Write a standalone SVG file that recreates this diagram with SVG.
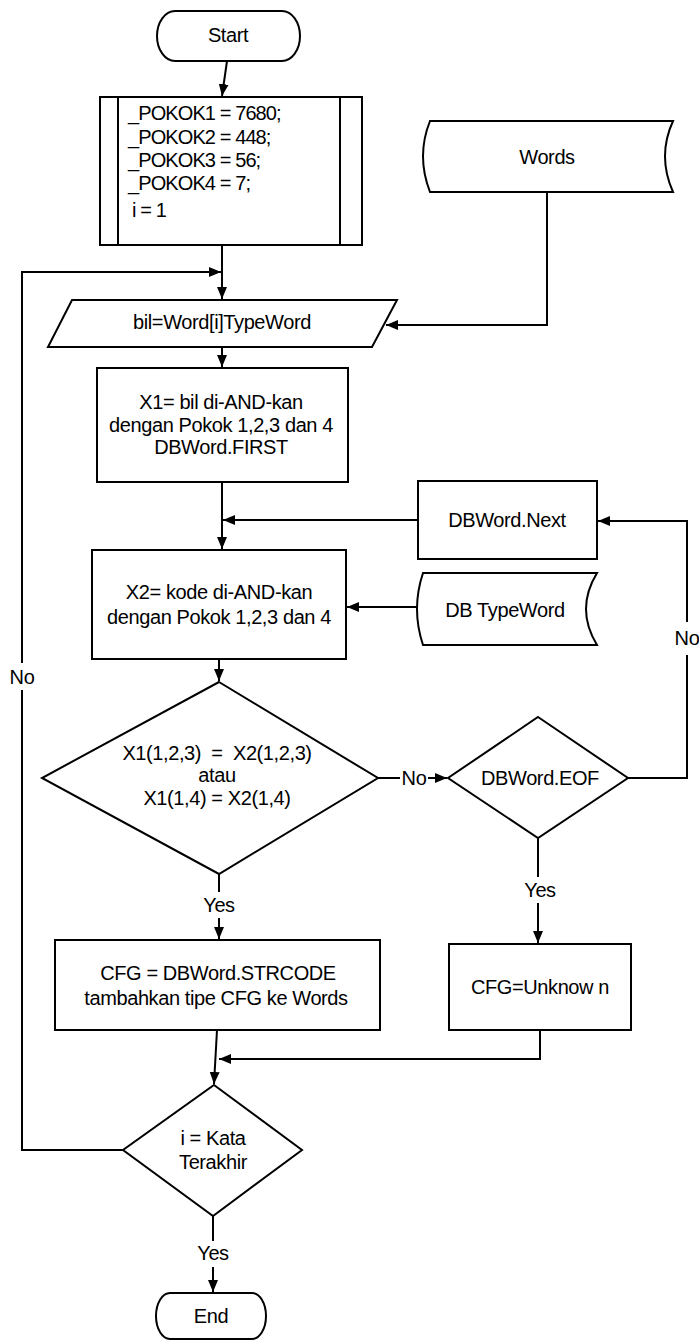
<svg xmlns="http://www.w3.org/2000/svg" width="699" height="1341" viewBox="0 0 699 1341">
<style>
.s{fill:#fff;stroke:#000;stroke-width:2}
.c{fill:none;stroke:#000;stroke-width:2}
text{font-family:"Liberation Sans",Arial,sans-serif;font-size:20px;fill:#000;letter-spacing:-0.4px}
.m{text-anchor:middle}
.p{white-space:pre}
.t{letter-spacing:-0.9px}
</style>
<defs>
<marker id="ah" viewBox="0 0 12 10" refX="12" refY="5" markerWidth="12" markerHeight="10" orient="auto" markerUnits="userSpaceOnUse"><path d="M0,0 L12,5 L0,10 z" fill="#000"/></marker>
</defs>
<rect width="699" height="1341" fill="#fff"/>
<g id="connectors">
<path class="c" d="M227,61 L222,96" marker-end="url(#ah)"/>
<path class="c" d="M222,245 L222,299" marker-end="url(#ah)"/>
<path class="c" d="M123,1150 L22,1150 L22,690"/>
<path class="c" d="M22,663 L22,272 L221,272" marker-end="url(#ah)"/>
<text class="m" x="22" y="684">No</text>
<path class="c" d="M547,192 L547,325 L386,325" marker-end="url(#ah)"/>
<path class="c" d="M222,347 L222,367" marker-end="url(#ah)"/>
<path class="c" d="M222,482 L222,549" marker-end="url(#ah)"/>
<path class="c" d="M418,520 L223,520" marker-end="url(#ah)"/>
<path class="c" d="M417,607 L347,607" marker-end="url(#ah)"/>
<path class="c" d="M219,659 L219,681" marker-end="url(#ah)"/>
<path class="c" d="M378,778 L400,778"/>
<path class="c" d="M428,778 L447,778" marker-end="url(#ah)"/>
<text class="m" x="414" y="785">No</text>
<path class="c" d="M628,778 L687,778 L687,655"/>
<path class="c" d="M687,622 L687,521 L598,521" marker-end="url(#ah)"/>
<text class="m" x="687" y="645">No</text>
<path class="c" d="M219,874 L219,892"/>
<path class="c" d="M219,918 L219,939" marker-end="url(#ah)"/>
<text class="m" x="219" y="912">Yes</text>
<path class="c" d="M538,838 L538,877"/>
<path class="c" d="M538,903 L538,943" marker-end="url(#ah)"/>
<text class="m" x="540" y="897">Yes</text>
<path class="c" d="M540,1030 L540,1059 L219,1059" marker-end="url(#ah)"/>
<path class="c" d="M217,1030 L214,1084" marker-end="url(#ah)"/>
<path class="c" d="M213,1216 L213,1241"/>
<path class="c" d="M213,1267 L213,1292" marker-end="url(#ah)"/>
<text class="m" x="213" y="1260">Yes</text>
</g>
<g id="start">
<path class="s" d="M175,11 H282 A18,25 0 0 1 282,61 H175 A18,25 0 0 1 175,11 Z"/>
<text class="m" x="228" y="42">Start</text>
</g>
<g id="init">
<rect class="s" x="100" y="97" width="262" height="148"/>
<path class="c" d="M118,97 V245 M340,97 V245"/>
<text class="t" x="128" y="120">_POKOK1 = 7680;</text>
<text class="t" x="128" y="144">_POKOK2 = 448;</text>
<text class="t" x="128" y="167">_POKOK3 = 56;</text>
<text class="t" x="128" y="190">_POKOK4 = 7;</text>
<text class="t" x="132" y="217">i = 1</text>
</g>
<g id="words">
<path class="s" d="M430,121 L673,121 Q657,156 673,192 L430,192 Q416,156 430,121 Z"/>
<text class="m" x="547" y="164">Words</text>
</g>
<g id="input">
<path class="s" d="M72,300 L397,300 L372,347 L48,347 Z"/>
<text class="m" x="222" y="329">bil=Word[i]TypeWord</text>
</g>
<g id="x1">
<rect class="s" x="97" y="368" width="251" height="114"/>
<text class="m" x="221" y="409">X1= bil di-AND-kan</text>
<text class="m" x="221" y="432">dengan Pokok 1,2,3 dan 4</text>
<text class="m" x="221" y="454">DBWord.FIRST</text>
</g>
<g id="next">
<rect class="s" x="418" y="481" width="179" height="78"/>
<text class="m" x="507" y="527">DBWord.Next</text>
</g>
<g id="x2">
<rect class="s" x="92" y="550" width="254" height="109"/>
<text class="m" x="219" y="599">X2= kode di-AND-kan</text>
<text class="m" x="219" y="624">dengan Pokok 1,2,3 dan 4</text>
</g>
<g id="dbtype">
<path class="s" d="M423,573 L597,573 Q575,609 597,645 L423,645 Q411,609 423,573 Z"/>
<text class="m" x="505" y="617">DB TypeWord</text>
</g>
<g id="cond">
<path class="s" d="M219,682 L378,778 L219,874 L42,778 Z"/>
<text class="m p" x="217" y="760">X1(1,2,3)  =  X2(1,2,3)</text>
<text class="m" x="217" y="782">atau</text>
<text class="m" x="217" y="805">X1(1,4) = X2(1,4)</text>
</g>
<g id="eof">
<path class="s" d="M538,717 L628,778 L538,838 L448,778 Z"/>
<text class="m" x="540" y="785">DBWord.EOF</text>
</g>
<g id="cfg">
<rect class="s" x="55" y="940" width="325" height="90"/>
<text class="m" x="218" y="980">CFG = DBWord.STRCODE</text>
<text class="m" x="216" y="1005">tambahkan tipe CFG ke Words</text>
</g>
<g id="unknown">
<rect class="s" x="449" y="944" width="182" height="86"/>
<text class="m" x="540" y="994">CFG=Unknow n</text>
</g>
<g id="last">
<path class="s" d="M214,1085 L302,1150 L213,1216 L123,1150 Z"/>
<text class="m" x="213" y="1145">i = Kata</text>
<text class="m" x="213" y="1169">Terakhir</text>
</g>
<g id="end">
<path class="s" d="M170,1293 H252 A14,23 0 0 1 252,1339 H170 A14,23 0 0 1 170,1293 Z"/>
<text class="m" x="211" y="1323">End</text>
</g>
</svg>
